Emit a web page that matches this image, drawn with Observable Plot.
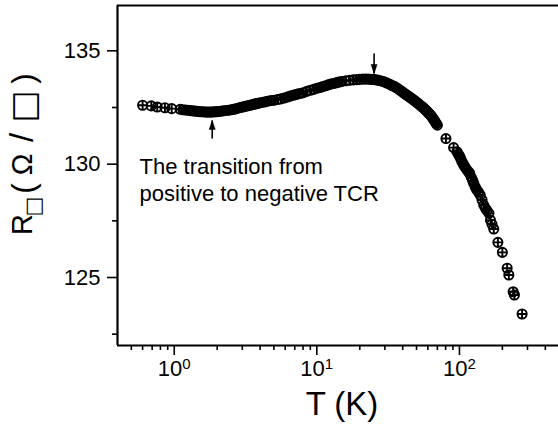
<!DOCTYPE html>
<html><head><meta charset="utf-8">
<script src="https://cdn.jsdelivr.net/npm/d3@7"></script>
<script src="https://cdn.jsdelivr.net/npm/@observablehq/plot@0.6"></script>
<style>body{margin:0;background:#fff;} #chart svg{display:block;}</style>
</head><body><div id="chart"></div>
<script>
// Sheet resistance R (Ω/□) vs temperature T (K)
const temperature = [
  0.60, 0.69, 0.76, 0.86, 0.96, 1.10,
  1.15, 1.20, 1.25, 1.30, 1.35, 1.40, 1.45, 1.50, 1.55, 1.60, 1.65, 1.70, 1.75, 1.80, 1.85, 1.90, 1.95, 2.00,
  2.1, 2.2, 2.3, 2.4, 2.5, 2.6, 2.7, 2.8, 2.9, 3.0, 3.1, 3.2, 3.3, 3.4, 3.5, 3.6, 3.7, 3.8, 3.9, 4.0,
  4.2, 4.4, 4.6, 4.8, 5.0, 5.3, 5.6, 5.9, 6.2, 6.5, 6.8, 7.1, 7.4, 7.7, 8.0, 8.5, 9.0, 9.5,
  10, 10.5, 11, 11.5, 12, 12.5, 13, 13.5, 14, 14.5, 15, 16, 17, 18, 19, 20, 21, 22, 23, 24, 25,
  26, 27, 28, 29, 30, 31, 32, 33, 34, 35, 36, 37, 38, 39, 40, 41, 42, 43, 44, 45, 46, 47, 48, 49, 50,
  51, 52, 53, 54, 55, 56, 57, 58, 59, 60, 61, 62, 63, 64, 65, 66, 67, 68, 69, 70,
  80.4, 91,
  96, 98, 100, 102, 104, 106, 108, 110, 113, 116, 118, 121, 124, 126, 129, 132, 136, 140, 144, 148,
  152, 156, 161, 165, 169, 174,
  186, 200, 216, 222, 238, 243, 275
];
const resistance = [
  132.60, 132.57, 132.52, 132.49, 132.45, 132.42,
  132.40, 132.39, 132.38, 132.36, 132.35, 132.34, 132.33, 132.32, 132.31, 132.31, 132.30, 132.30, 132.30, 132.30, 132.30, 132.31, 132.31, 132.32,
  132.33, 132.35, 132.37, 132.38, 132.40, 132.42, 132.44, 132.47, 132.50, 132.52, 132.54, 132.56, 132.58, 132.60, 132.62, 132.64, 132.66, 132.67, 132.69, 132.71,
  132.73, 132.76, 132.79, 132.81, 132.82, 132.85, 132.88, 132.92, 132.96, 133.00, 133.04, 133.07, 133.10, 133.12, 133.15, 133.21, 133.26, 133.30,
  133.35, 133.38, 133.42, 133.46, 133.50, 133.53, 133.56, 133.58, 133.61, 133.63, 133.65, 133.68, 133.70, 133.72, 133.73, 133.74, 133.75, 133.75, 133.75, 133.74, 133.74,
  133.72, 133.70, 133.68, 133.65, 133.62, 133.58, 133.54, 133.50, 133.46, 133.42, 133.38, 133.33, 133.28, 133.23, 133.18, 133.13, 133.08, 133.04, 132.99, 132.95, 132.91, 132.86, 132.82, 132.78, 132.73,
  132.69, 132.65, 132.60, 132.56, 132.52, 132.48, 132.43, 132.39, 132.34, 132.29, 132.24, 132.20, 132.15, 132.09, 132.03, 131.97, 131.91, 131.84, 131.78, 131.72,
  131.13, 130.73,
  130.55, 130.45, 130.36, 130.25, 130.12, 130.02, 129.93, 129.85, 129.74, 129.66, 129.59, 129.42, 129.27, 129.15, 129.00, 128.88, 128.76, 128.63, 128.42, 128.19,
  128.05, 127.95, 127.83, 127.53, 127.35, 127.14,
  126.55, 126.11, 125.41, 125.11, 124.37, 124.23, 123.39
];

const xMajorTicks = [1, 10, 100];
const xTickBase = ["10", "10", "10"];
const xTickExponent = ["0", "1", "2"];
const xMinorTicks = [0.5, 0.6, 0.7, 0.8, 0.9, 2, 3, 4, 5, 6, 7, 8, 9, 20, 30, 40, 50, 60, 70, 80, 90, 200, 300, 400];
const yMajorTicks = [125, 130, 135];
const yMinorTicks = [122.5, 127.5, 132.5];

// arrows marking the transition points
const arrowT = [1.846, 25.2];
const arrowTailR = [131.13, 134.88];
const arrowTipR = [131.93, 134.0];
const arrowDir = ["up", "down"];

const annotation = ["The transition from\npositive to negative TCR"];
const xTitle = ["T (K)"];
// y title pieces: R, subscript square, then (Ω / □)
const yTitleR = ["R"];
const yTitleSub = ["\u25A1"];
const yTitleOpen = ["("];
const yTitleOmega = ["\u03A9"];
const yTitleSlash = ["/"];
const yTitleSquare = ["\u25A1"];
const yTitleClose = [")"];

const rows = temperature.map((t, i) => ({T: t, R: resistance[i]}));
const arrows = arrowT.map((t, i) => ({T: t, tail: arrowTailR[i], tip: arrowTipR[i], dir: arrowDir[i]}));

const circlePlus = {
  draw(ctx, size) {
    const r = Math.sqrt(size / Math.PI);
    ctx.moveTo(r, 0);
    ctx.arc(0, 0, r, 0, 2 * Math.PI);
    ctx.moveTo(-r, 0); ctx.lineTo(r, 0);
    ctx.moveTo(0, -r); ctx.lineTo(0, r);
  }
};
const headUp = {draw(ctx) { ctx.moveTo(0, 0); ctx.lineTo(-3, 9); ctx.lineTo(3, 9); ctx.closePath(); }};
const headDown = {draw(ctx) { ctx.moveTo(0, 0); ctx.lineTo(-3, -9); ctx.lineTo(3, -9); ctx.closePath(); }};

const font = "'Liberation Sans', Arial, Helvetica, sans-serif";
const sqFont = "'DejaVu Sans', sans-serif";
const yt = {frameAnchor: "left", rotate: -90, textAnchor: "middle", fill: "#000"};

const chart = Plot.plot({
  width: 558,
  height: 439,
  marginLeft: 117,
  marginRight: 0,
  marginTop: 5,
  marginBottom: 94,
  style: {fontFamily: font, background: "#fff", color: "#000", overflow: "visible"},
  x: {type: "log", domain: [0.4, 495]},
  y: {domain: [122, 137]},
  marks: [
    // frame
    Plot.ruleY([137], {stroke: "#000", strokeWidth: 2.2}),
    Plot.ruleX([0.4], {stroke: "#000", strokeWidth: 2.2}),
    Plot.ruleY([122], {stroke: "#000", strokeWidth: 2.2}),
    // axes ticks
    Plot.axisX({ticks: xMajorTicks, tickSize: 10, tickFormat: () => "", label: null, strokeWidth: 1.6}),
    Plot.axisX({ticks: xMinorTicks, tickSize: 5, tickFormat: () => "", label: null, strokeWidth: 1.6}),
    Plot.axisY({ticks: yMajorTicks, tickSize: 10, tickPadding: 7, fontSize: 22, label: null, strokeWidth: 1.6}),
    Plot.axisY({ticks: yMinorTicks, tickSize: 5, tickFormat: () => "", label: null, strokeWidth: 1.6}),
    // x tick labels 10^n
    Plot.text(xMajorTicks, {x: d => d, text: (d, i) => xTickBase[i], frameAnchor: "bottom", textAnchor: "end", dx: 8, dy: 30, fontSize: 22, fill: "#000"}),
    Plot.text(xMajorTicks, {x: d => d, text: (d, i) => xTickExponent[i], frameAnchor: "bottom", textAnchor: "start", dx: 8, dy: 23, fontSize: 15, fill: "#000"}),
    // axis titles
    Plot.text(xTitle, {frameAnchor: "bottom", dx: 4, dy: 69, fontSize: 33, fill: "#000"}),
    Plot.text(yTitleR, {...yt, dx: -95, dy: 49, fontSize: 29}),
    Plot.text(yTitleSub, {...yt, dx: -84, dy: 31, fontSize: 21, fontFamily: sqFont}),
    Plot.text(yTitleOpen, {...yt, dx: -93, dy: 13, fontSize: 31}),
    Plot.text(yTitleOmega, {...yt, dx: -95, dy: -11, fontSize: 29}),
    Plot.text(yTitleSlash, {...yt, dx: -95, dy: -38, fontSize: 33}),
    Plot.text(yTitleSquare, {...yt, dx: -93, dy: -69, fontSize: 34, fontFamily: sqFont}),
    Plot.text(yTitleClose, {...yt, dx: -93, dy: -97, fontSize: 31}),
    // data
    Plot.dot(rows, {x: "T", y: "R", symbol: circlePlus, r: 4.6, stroke: "#000", strokeWidth: 1.9, fill: "none"}),
    // annotation
    Plot.text(annotation, {x: () => 0.571, y: () => 130.41, textAnchor: "start", lineAnchor: "top", fontSize: 22, lineHeight: 1.23, fill: "#000"}),
    Plot.link(arrows, {x1: "T", x2: "T", y1: "tail", y2: "tip", stroke: "#000", strokeWidth: 1.6}),
    Plot.dot(arrows.filter(d => d.dir === "up"), {x: "T", y: "tip", symbol: headUp, fill: "#000", stroke: "#000", strokeWidth: 0.5}),
    Plot.dot(arrows.filter(d => d.dir === "down"), {x: "T", y: "tip", symbol: headDown, fill: "#000", stroke: "#000", strokeWidth: 0.5})
  ]
});
document.getElementById("chart").appendChild(chart);
</script>
</body></html>
